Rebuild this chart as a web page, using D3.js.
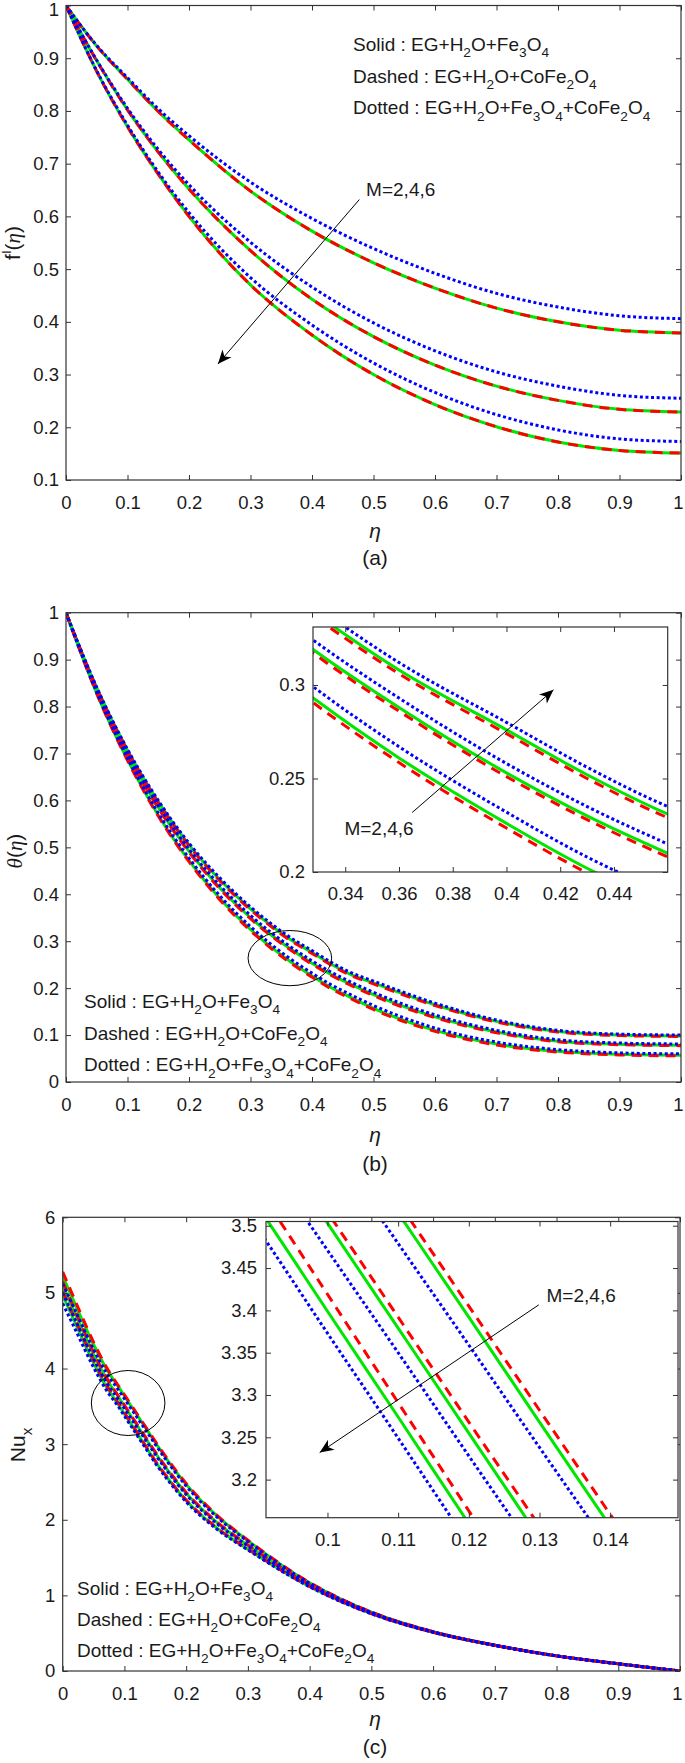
<!DOCTYPE html>
<html><head><meta charset="utf-8">
<script src="https://cdn.jsdelivr.net/npm/d3@7"></script>
<style>
body{margin:0;background:#fff}
svg{display:block}
text{font-family:"Liberation Sans",Arial,sans-serif;fill:#1a1a1a}
</style>
</head><body>
<svg id="chart" width="685" height="1763"></svg>
<script>
// ---------------- DATA ----------------
// Panel (a): f'(eta)
const etaA = [0, 0.05, 0.1, 0.15, 0.2, 0.3, 0.4, 0.5, 0.6, 0.7, 0.8, 0.9, 1];
const fA_M2_solid  = [1, 0.923, 0.860, 0.799, 0.745, 0.648, 0.572, 0.512, 0.464, 0.426, 0.400, 0.384, 0.379];
const fA_M2_dashed = [1, 0.923, 0.860, 0.799, 0.745, 0.648, 0.572, 0.512, 0.464, 0.426, 0.400, 0.384, 0.379];
const fA_M2_dotted = [1, 0.924, 0.863, 0.804, 0.753, 0.665, 0.596, 0.539, 0.492, 0.454, 0.428, 0.4115, 0.406];
const fA_M4_solid  = [1, 0.895, 0.802, 0.722, 0.652, 0.535, 0.443, 0.372, 0.318, 0.278, 0.251, 0.234, 0.229];
const fA_M4_dashed = [1, 0.895, 0.802, 0.722, 0.652, 0.535, 0.443, 0.372, 0.318, 0.278, 0.251, 0.234, 0.229];
const fA_M4_dotted = [1, 0.896, 0.805, 0.727, 0.660, 0.551, 0.466, 0.398, 0.345, 0.305, 0.278, 0.2605, 0.255];
const fA_M6_solid  = [1, 0.875, 0.770, 0.680, 0.600, 0.470, 0.375, 0.300, 0.243, 0.201, 0.172, 0.156, 0.151];
const fA_M6_dashed = [1, 0.875, 0.770, 0.680, 0.600, 0.470, 0.375, 0.300, 0.243, 0.201, 0.172, 0.156, 0.151];
const fA_M6_dotted = [1, 0.876, 0.773, 0.684, 0.607, 0.484, 0.394, 0.322, 0.266, 0.224, 0.195, 0.178, 0.173];

// Panel (b): theta(eta)
const etaB = [0, 0.05, 0.1, 0.15, 0.2, 0.25, 0.3, 0.33, 0.36, 0.4, 0.43, 0.46, 0.5, 0.6, 0.7, 0.8, 0.9, 1];
const tB_M6_dotted = [1, 0.841, 0.709, 0.600, 0.509, 0.435, 0.373, 0.341, 0.312, 0.280, 0.256, 0.235, 0.215, 0.168, 0.132, 0.110, 0.102, 0.100];
const tB_M6_solid  = [1, 0.8398, 0.7068, 0.597, 0.5054, 0.431, 0.369, 0.337, 0.308, 0.276, 0.252, 0.231, 0.211, 0.1646, 0.1292, 0.1076, 0.100, 0.098];
const tB_M6_dashed = [1, 0.8392, 0.7057, 0.5955, 0.5036, 0.429, 0.367, 0.335, 0.306, 0.274, 0.250, 0.229, 0.209, 0.1629, 0.1278, 0.1064, 0.099, 0.097];
const tB_M4_dotted = [1, 0.837, 0.701, 0.589, 0.496, 0.419, 0.355, 0.322, 0.293, 0.258, 0.235, 0.215, 0.191, 0.143, 0.110, 0.090, 0.083, 0.081];
const tB_M4_solid  = [1, 0.8355, 0.6983, 0.5853, 0.4915, 0.414, 0.350, 0.317, 0.288, 0.253, 0.230, 0.210, 0.186, 0.1388, 0.1065, 0.087, 0.0805, 0.0785];
const tB_M4_dashed = [1, 0.8349, 0.6972, 0.5838, 0.4897, 0.412, 0.348, 0.315, 0.286, 0.251, 0.228, 0.208, 0.184, 0.1371, 0.1051, 0.0858, 0.0795, 0.0775];
const tB_M2_dotted = [1, 0.830, 0.690, 0.573, 0.477, 0.397, 0.331, 0.297, 0.267, 0.232, 0.208, 0.188, 0.163, 0.115, 0.085, 0.069, 0.062, 0.060];
const tB_M2_solid  = [1, 0.8282, 0.6867, 0.5685, 0.4716, 0.391, 0.325, 0.291, 0.261, 0.226, 0.202, 0.182, 0.157, 0.1099, 0.0808, 0.0654, 0.059, 0.057];
const tB_M2_dashed = [1, 0.8275, 0.6853, 0.5666, 0.4694, 0.3885, 0.3225, 0.2885, 0.2585, 0.2235, 0.1995, 0.1795, 0.1545, 0.1078, 0.079, 0.0639, 0.0577, 0.0557];

// Panel (c): Nu_x
const etaC = [0, 0.02, 0.05, 0.07, 0.09, 0.1, 0.11, 0.12, 0.13, 0.14, 0.15, 0.17, 0.2, 0.25, 0.3, 0.4, 0.5, 0.6, 0.7, 0.8, 0.9, 1];
const nC_M2_dashed = [5.28, 4.900, 4.350, 4.030, 3.775, 3.652, 3.528, 3.405, 3.282, 3.159, 3.036, 2.800, 2.480, 2.060, 1.730, 1.170, 0.780, 0.520, 0.340, 0.200, 0.095, 0];
const nC_M2_solid  = [5.22, 4.854, 4.318, 4.007, 3.761, 3.638, 3.515, 3.392, 3.268, 3.145, 3.022, 2.787, 2.468, 2.051, 1.724, 1.167, 0.779, 0.520, 0.340, 0.200, 0.095, 0];
const nC_M2_dotted = [5.12, 4.772, 4.253, 3.954, 3.720, 3.600, 3.479, 3.359, 3.238, 3.118, 2.997, 2.763, 2.447, 2.035, 1.712, 1.162, 0.777, 0.519, 0.340, 0.200, 0.095, 0];
const nC_M4_dashed = [5.15, 4.768, 4.216, 3.895, 3.639, 3.516, 3.392, 3.268, 3.145, 3.021, 2.897, 2.668, 2.362, 1.970, 1.667, 1.142, 0.769, 0.516, 0.340, 0.200, 0.095, 0];
const nC_M4_solid  = [5.10, 4.730, 4.189, 3.876, 3.627, 3.503, 3.379, 3.255, 3.131, 3.007, 2.883, 2.655, 2.350, 1.961, 1.661, 1.139, 0.768, 0.515, 0.340, 0.200, 0.095, 0];
const nC_M4_dotted = [5.00, 4.649, 4.128, 3.828, 3.592, 3.471, 3.350, 3.228, 3.107, 2.985, 2.864, 2.637, 2.334, 1.948, 1.653, 1.136, 0.766, 0.515, 0.340, 0.200, 0.095, 0];
const nC_M6_dashed = [5.02, 4.650, 4.109, 3.796, 3.547, 3.419, 3.291, 3.163, 3.034, 2.906, 2.778, 2.555, 2.261, 1.892, 1.614, 1.118, 0.759, 0.512, 0.340, 0.200, 0.095, 0];
const nC_M6_solid  = [4.97, 4.608, 4.076, 3.768, 3.525, 3.399, 3.274, 3.148, 3.023, 2.898, 2.772, 2.549, 2.256, 1.888, 1.611, 1.117, 0.759, 0.512, 0.340, 0.200, 0.095, 0];
const nC_M6_dotted = [4.86, 4.523, 4.016, 3.724, 3.498, 3.373, 3.249, 3.124, 2.999, 2.875, 2.750, 2.528, 2.237, 1.874, 1.601, 1.113, 0.757, 0.511, 0.340, 0.200, 0.095, 0];

// Tick values
const xTicksMain = [0, 0.1, 0.2, 0.3, 0.4, 0.5, 0.6, 0.7, 0.8, 0.9, 1];
const yTicksA = [0.1, 0.2, 0.3, 0.4, 0.5, 0.6, 0.7, 0.8, 0.9, 1];
const yTicksB = [0, 0.1, 0.2, 0.3, 0.4, 0.5, 0.6, 0.7, 0.8, 0.9, 1];
const yTicksC = [0, 1, 2, 3, 4, 5, 6];
const xTicksInsetB = [0.34, 0.36, 0.38, 0.4, 0.42, 0.44];
const yTicksInsetB = [0.2, 0.25, 0.3];
const xTicksInsetC = [0.1, 0.11, 0.12, 0.13, 0.14];
const yTicksInsetC = [3.2, 3.25, 3.3, 3.35, 3.4, 3.45, 3.5];

const legendLines = ["Solid : EG+H_2O+Fe_3O_4", "Dashed : EG+H_2O+CoFe_2O_4", "Dotted : EG+H_2O+Fe_3O_4+CoFe_2O_4"];
const mLabel = "M=2,4,6";

// ---------------- STYLE ----------------
const COL = {solid: "#00e600", dashed: "#ff0000", dotted: "#0000ff"};
const TICK_FS = 18.5;
const LEG_FS = 19;
const AX = "#333";

const svg = d3.select("#chart");
const defs = svg.append("defs");
let clipId = 0;

function rich(textSel, str, fs) {
  const re = /([_^])(.)/g; let last = 0, m; const segs = [];
  while ((m = re.exec(str))) {
    if (m.index > last) segs.push({t: str.slice(last, m.index), s: 0});
    segs.push({t: m[2], s: m[1] === "_" ? 1 : -1}); last = re.lastIndex;
  }
  if (last < str.length) segs.push({t: str.slice(last), s: 0});
  let cur = 0;
  segs.forEach(sg => {
    const target = sg.s === 1 ? fs * 0.33 : sg.s === -1 ? -fs * 0.4 : 0;
    const ts = textSel.append("tspan").text(sg.t).attr("dy", target - cur);
    if (sg.s) ts.attr("font-size", fs * 0.72);
    cur = target;
  });
}

function series(etas, vals) { return etas.map((e, i) => [e, vals[i]]); }

function drawLines(g, x, y, sets, clip) {
  const line = d3.line().x(d => x(d[0])).y(d => y(d[1])).curve(d3.curveMonotoneX);
  const lg = g.append("g").attr("clip-path", `url(#${clip})`);
  ["solid", "dashed", "dotted"].forEach(kind => {
    sets.filter(s => s.kind === kind).forEach(s => {
      const p = lg.append("path").datum(s.data).attr("d", line)
        .attr("fill", "none").attr("stroke", COL[kind]).attr("stroke-width", 3);
      if (kind === "dashed") p.attr("stroke-dasharray", "10,7");
      if (kind === "dotted") p.attr("stroke-dasharray", "3,2.6");
    });
  });
}

function makeClip(box) {
  const id = "clip" + (clipId++);
  defs.append("clipPath").attr("id", id).append("rect")
    .attr("x", box.L).attr("y", box.T).attr("width", box.R - box.L).attr("height", box.B - box.T);
  return id;
}

function axes(g, x, y, box, xt, yt, xpad, ypad) {
  const fmt = d => String(d);
  const style = sel => {
    sel.select(".domain").remove();
    sel.selectAll(".tick line").attr("stroke", AX).attr("stroke-width", 1);
    sel.selectAll("text").attr("font-size", TICK_FS).attr("font-family", "Liberation Sans, Arial, sans-serif").attr("fill", "#1a1a1a");
  };
  const lx = g.append("g").attr("transform", `translate(0,${box.B})`)
    .call(d3.axisBottom(x).tickValues(xt).tickSizeInner(-5).tickSizeOuter(0).tickPadding(xpad).tickFormat(fmt)).call(style);
  g.append("g").attr("transform", `translate(0,${box.T})`)
    .call(d3.axisTop(x).tickValues(xt).tickSizeInner(-5).tickSizeOuter(0).tickFormat("")).call(style);
  const ly = g.append("g").attr("transform", `translate(${box.L},0)`)
    .call(d3.axisLeft(y).tickValues(yt).tickSizeInner(-5).tickSizeOuter(0).tickPadding(ypad).tickFormat(fmt)).call(style);
  g.append("g").attr("transform", `translate(${box.R},0)`)
    .call(d3.axisRight(y).tickValues(yt).tickSizeInner(-5).tickSizeOuter(0).tickFormat("")).call(style);
  g.append("rect").attr("x", box.L).attr("y", box.T).attr("width", box.R - box.L).attr("height", box.B - box.T)
    .attr("fill", "none").attr("stroke", AX).attr("stroke-width", 1.2);
  return {lx, ly};
}

function arrow(g, x1, y1, x2, y2) {
  g.append("line").attr("x1", x1).attr("y1", y1).attr("x2", x2).attr("y2", y2)
    .attr("stroke", "#000").attr("stroke-width", 1);
  const a = Math.atan2(y2 - y1, x2 - x1) * 180 / Math.PI;
  g.append("path").attr("d", "M0,0 L-14,-6 L-10,0 L-14,6 Z").attr("fill", "#000")
    .attr("transform", `translate(${x2},${y2}) rotate(${a})`);
}

function legend(g, x0, y0, dy) {
  legendLines.forEach((s, i) => rich(g.append("text").attr("x", x0).attr("y", y0 + i * dy).attr("font-size", LEG_FS), s, LEG_FS));
}

function mText(g, x, y) {
  g.append("text").attr("x", x).attr("y", y).attr("font-size", LEG_FS).attr("dy", "0.35em").text(mLabel);
}

function bottomLabels(g, cx, yEta, yLab, lab) {
  g.append("text").attr("x", cx).attr("y", yEta).attr("text-anchor", "middle")
    .attr("font-family", "Liberation Serif, serif").attr("font-style", "italic").attr("font-size", 21).text("η");
  g.append("text").attr("x", cx).attr("y", yLab).attr("text-anchor", "middle")
    .attr("font-family", "Liberation Serif, serif").attr("font-size", 21).text(lab);
}

function fixEdges(ax) {
  ax.lx.selectAll(".tick").filter(d => d === 1).select("text").attr("x", -3);
}

// ---------------- PANEL A ----------------
{
  const box = {L: 66, R: 681, T: 5.5, B: 480};
  const g = svg.append("g");
  const x = d3.scaleLinear().domain([0, 1]).range([box.L, box.R]);
  const y = d3.scaleLinear().domain([0.1, 1]).range([box.B, box.T]);
  const clip = makeClip(box);
  drawLines(g, x, y, [
    {kind: "solid", data: series(etaA, fA_M2_solid)}, {kind: "solid", data: series(etaA, fA_M4_solid)}, {kind: "solid", data: series(etaA, fA_M6_solid)},
    {kind: "dashed", data: series(etaA, fA_M2_dashed)}, {kind: "dashed", data: series(etaA, fA_M4_dashed)}, {kind: "dashed", data: series(etaA, fA_M6_dashed)},
    {kind: "dotted", data: series(etaA, fA_M2_dotted)}, {kind: "dotted", data: series(etaA, fA_M4_dotted)}, {kind: "dotted", data: series(etaA, fA_M6_dotted)}
  ], clip);
  const ax = axes(g, x, y, box, xTicksMain, yTicksA, 16, 7);
  fixEdges(ax);
  ax.ly.selectAll(".tick").filter(d => d === 1).select("text").attr("y", 4);
  legend(g, 353, 51, 31.7);
  arrow(g, x(0.477), y(0.632), x(0.247), y(0.320));
  mText(g, x(0.488), y(0.652));
  const yl = g.append("text").attr("transform", `translate(20,243) rotate(-90)`).attr("text-anchor", "middle").attr("font-size", 21);
  yl.append("tspan").text("f");
  yl.append("tspan").text("I").attr("font-size", 13).attr("dy", -9);
  yl.append("tspan").text("(").attr("dy", 9);
  yl.append("tspan").text("η").attr("font-family", "Liberation Serif, serif").attr("font-style", "italic");
  yl.append("tspan").text(")");
  bottomLabels(g, 375, 538, 565, "(a)");
}

// ---------------- PANEL B ----------------
{
  const box = {L: 66, R: 681, T: 612.7, B: 1082};
  const g = svg.append("g");
  const x = d3.scaleLinear().domain([0, 1]).range([box.L, box.R]);
  const y = d3.scaleLinear().domain([0, 1]).range([box.B, box.T]);
  const clip = makeClip(box);
  const sets = [
    {kind: "solid", data: series(etaB, tB_M2_solid)}, {kind: "solid", data: series(etaB, tB_M4_solid)}, {kind: "solid", data: series(etaB, tB_M6_solid)},
    {kind: "dashed", data: series(etaB, tB_M2_dashed)}, {kind: "dashed", data: series(etaB, tB_M4_dashed)}, {kind: "dashed", data: series(etaB, tB_M6_dashed)},
    {kind: "dotted", data: series(etaB, tB_M2_dotted)}, {kind: "dotted", data: series(etaB, tB_M4_dotted)}, {kind: "dotted", data: series(etaB, tB_M6_dotted)}
  ];
  drawLines(g, x, y, sets, clip);
  fixEdges(axes(g, x, y, box, xTicksMain, yTicksB, 16, 7));
  legend(g, 84, 1008, 31.7);
  g.append("ellipse").attr("cx", x(0.364)).attr("cy", y(0.264)).attr("rx", 41.8).attr("ry", 27.6)
    .attr("fill", "none").attr("stroke", "#000").attr("stroke-width", 1);
  const yl = g.append("text").attr("transform", `translate(22,851) rotate(-90)`).attr("text-anchor", "middle").attr("font-size", 21);
  yl.append("tspan").text("θ").attr("font-family", "Liberation Serif, serif").attr("font-style", "italic");
  yl.append("tspan").text("(");
  yl.append("tspan").text("η").attr("font-family", "Liberation Serif, serif").attr("font-style", "italic");
  yl.append("tspan").text(")");
  bottomLabels(g, 375, 1142, 1171, "(b)");

  const ib = {L: 313, R: 667.7, T: 627, B: 872};
  const gi = svg.append("g");
  gi.append("rect").attr("x", ib.L).attr("y", ib.T).attr("width", ib.R - ib.L).attr("height", ib.B - ib.T).attr("fill", "#fff");
  const xi = d3.scaleLinear().domain([0.328, 0.46]).range([ib.L, ib.R]);
  const yi = d3.scaleLinear().domain([0.2, 0.331]).range([ib.B, ib.T]);
  drawLines(gi, xi, yi, sets, makeClip(ib));
  axes(gi, xi, yi, ib, xTicksInsetB, yTicksInsetB, 15, 8);
  arrow(gi, xi(0.3649), yi(0.2318), xi(0.4175), yi(0.2974));
  mText(gi, xi(0.3397), yi(0.2235));
}

// ---------------- PANEL C ----------------
{
  const box = {L: 62.7, R: 680, T: 1217.3, B: 1671};
  const g = svg.append("g");
  const x = d3.scaleLinear().domain([0, 1]).range([box.L, box.R]);
  const y = d3.scaleLinear().domain([0, 6]).range([box.B, box.T]);
  const clip = makeClip(box);
  const sets = [
    {kind: "solid", data: series(etaC, nC_M2_solid)}, {kind: "solid", data: series(etaC, nC_M4_solid)}, {kind: "solid", data: series(etaC, nC_M6_solid)},
    {kind: "dashed", data: series(etaC, nC_M2_dashed)}, {kind: "dashed", data: series(etaC, nC_M4_dashed)}, {kind: "dashed", data: series(etaC, nC_M6_dashed)},
    {kind: "dotted", data: series(etaC, nC_M2_dotted)}, {kind: "dotted", data: series(etaC, nC_M4_dotted)}, {kind: "dotted", data: series(etaC, nC_M6_dotted)}
  ];
  drawLines(g, x, y, sets, clip);
  fixEdges(axes(g, x, y, box, xTicksMain, yTicksC, 16, 7.5));
  legend(g, 77, 1595, 30.8);
  g.append("ellipse").attr("cx", x(0.106)).attr("cy", y(3.544)).attr("rx", 36.8).attr("ry", 32.5)
    .attr("fill", "none").attr("stroke", "#000").attr("stroke-width", 1);
  const yl = g.append("text").attr("transform", `translate(25,1445) rotate(-90)`).attr("text-anchor", "middle").attr("font-size", 21);
  rich(yl, "Nu_x", 21);
  bottomLabels(g, 375, 1726, 1754, "(c)");

  const ic = {L: 266, R: 678, T: 1221.5, B: 1517.7};
  const gi = svg.append("g");
  gi.append("rect").attr("x", ic.L).attr("y", ic.T).attr("width", ic.R - ic.L).attr("height", ic.B - ic.T).attr("fill", "#fff");
  const xi = d3.scaleLinear().domain([0.0913, 0.1496]).range([ic.L, ic.R]);
  const yi = d3.scaleLinear().domain([3.155, 3.505]).range([ic.B, ic.T]);
  drawLines(gi, xi, yi, sets, makeClip(ic));
  axes(gi, xi, yi, ic, xTicksInsetC, yTicksInsetC, 15, 9);
  arrow(gi, xi(0.1299), yi(3.4065), xi(0.0989), yi(3.232));
  mText(gi, xi(0.1310), yi(3.418));
}
</script>
</body></html>
